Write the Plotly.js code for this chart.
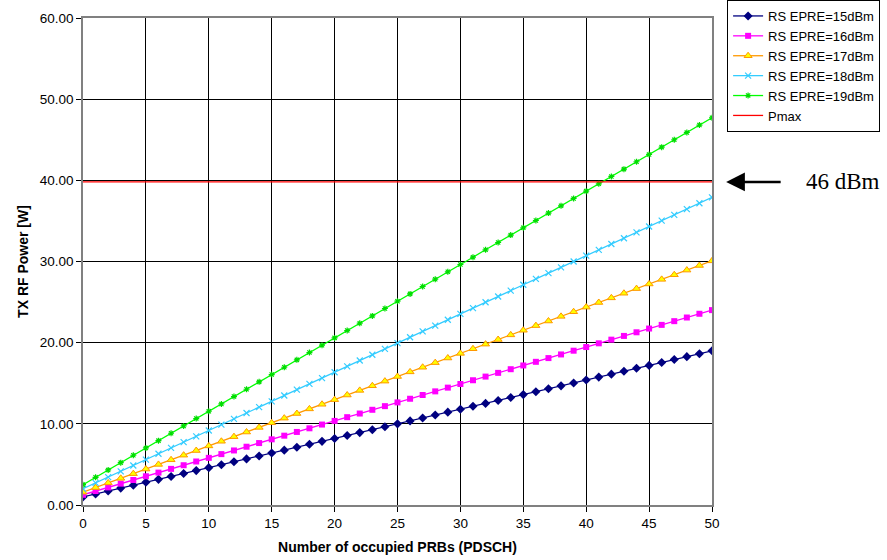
<!DOCTYPE html>
<html><head><meta charset="utf-8">
<script src="https://cdn.plot.ly/plotly-3.0.1.min.js"></script>
<style>html,body{margin:0;padding:0;background:#fff;}#chart{width:887px;height:560px;}</style>
</head><body><div id="chart"></div>
<script>
const prbs = [0,1,2,3,4,5,6,7,8,9,10,11,12,13,14,15,16,17,18,19,20,21,22,23,24,25,26,27,28,29,30,31,32,33,34,35,36,37,38,39,40,41,42,43,44,45,46,47,48,49,50];
const epre15 = [1.00,1.36,1.72,2.08,2.44,2.80,3.16,3.52,3.88,4.24,4.60,4.96,5.32,5.68,6.04,6.40,6.76,7.12,7.48,7.84,8.20,8.56,8.92,9.28,9.64,10.00,10.36,10.72,11.08,11.44,11.80,12.16,12.52,12.88,13.24,13.60,13.96,14.32,14.68,15.04,15.40,15.76,16.12,16.48,16.84,17.20,17.56,17.92,18.28,18.64,19.00];
const epre16 = [1.26,1.72,2.17,2.63,3.08,3.54,3.99,4.45,4.90,5.36,5.81,6.27,6.72,7.18,7.63,8.09,8.54,9.00,9.45,9.91,10.36,10.82,11.27,11.73,12.18,12.64,13.09,13.55,14.00,14.46,14.91,15.37,15.82,16.28,16.73,17.19,17.64,18.10,18.55,19.01,19.46,19.92,20.37,20.83,21.28,21.74,22.19,22.65,23.10,23.56,24.01];
const epre17 = [1.58,2.15,2.72,3.29,3.86,4.43,5.00,5.57,6.14,6.71,7.28,7.85,8.42,8.99,9.56,10.13,10.70,11.27,11.84,12.41,12.98,13.55,14.12,14.69,15.26,15.83,16.40,16.97,17.54,18.11,18.68,19.25,19.82,20.39,20.96,21.53,22.10,22.67,23.24,23.81,24.38,24.95,25.52,26.09,26.66,27.23,27.80,28.37,28.94,29.51,30.08];
const epre18 = [2.00,2.72,3.44,4.15,4.87,5.59,6.31,7.03,7.74,8.46,9.18,9.90,10.62,11.33,12.05,12.77,13.49,14.21,14.92,15.64,16.36,17.08,17.80,18.51,19.23,19.95,20.67,21.39,22.10,22.82,23.54,24.26,24.98,25.69,26.41,27.13,27.85,28.57,29.28,30.00,30.72,31.44,32.16,32.87,33.59,34.31,35.03,35.75,36.46,37.18,37.90];
const epre19 = [2.51,3.41,4.32,5.22,6.13,7.03,7.93,8.84,9.74,10.65,11.55,12.45,13.36,14.26,15.17,16.07,16.97,17.88,18.78,19.69,20.59,21.49,22.40,23.30,24.21,25.11,26.01,26.92,27.82,28.73,29.63,30.53,31.44,32.34,33.25,34.15,35.05,35.96,36.86,37.77,38.67,39.57,40.48,41.38,42.29,43.19,44.09,45.00,45.90,46.81,47.71];
const pmaxX = [0,50];
const pmaxY = [39.81,39.81];
const seriesNames = ['RS EPRE=15dBm','RS EPRE=16dBm','RS EPRE=17dBm','RS EPRE=18dBm','RS EPRE=19dBm','Pmax'];
const yTickVals = [0,10,20,30,40,50,60];
const xTickVals = [0,5,10,15,20,25,30,35,40,45,50];

const traces = [
  {x: prbs, y: epre15, name: seriesNames[0], mode:'lines+markers',
   line:{color:'#000080', width:1.3}, marker:{symbol:'diamond', size:7, color:'#000080'}},
  {x: prbs, y: epre16, name: seriesNames[1], mode:'lines+markers',
   line:{color:'#FF00FF', width:1.3}, marker:{symbol:'square', size:6, color:'#FF00FF'}},
  {x: prbs, y: epre17, name: seriesNames[2], mode:'lines+markers',
   line:{color:'#FF9900', width:1.3}, marker:{symbol:'triangle-up', size:7, color:'#FFFF00', line:{color:'#FF9900', width:1}}},
  {x: prbs, y: epre18, name: seriesNames[3], mode:'lines+markers',
   line:{color:'#33CCFF', width:1.3}, marker:{symbol:'x-thin-open', size:6, color:'#33CCFF', line:{color:'#33CCFF', width:1.2}}},
  {x: prbs, y: epre19, name: seriesNames[4], mode:'lines+markers',
   line:{color:'#00FF00', width:1.3}, marker:{symbol:'asterisk-open', size:5, color:'#00DD00', line:{color:'#00DD00', width:1.2}}},
  {x: pmaxX, y: pmaxY, name: seriesNames[5], mode:'lines',
   line:{color:'#FF0000', width:1.3}}
];

const layout = {
  width: 887, height: 560,
  margin: {l:83, r:175, t:18, b:55, autoexpand:false},
  paper_bgcolor:'#ffffff', plot_bgcolor:'#ffffff',
  font: {family:'Arial, Liberation Sans, sans-serif', size:13, color:'#000'},
  showlegend: true,
  legend: {x:1.024, y:1.037, xanchor:'left', yanchor:'top', bordercolor:'#000', borderwidth:1,
           font:{size:13, family:'Arial, Liberation Sans, sans-serif'}, tracegroupgap:0, itemwidth:30},
  xaxis: {range:[0,50], tickvals:xTickVals, ticks:'outside', ticklen:5, tickcolor:'#000',
          showgrid:true, gridcolor:'#000', gridwidth:1, zeroline:false,
          showline:true, linecolor:'#808080', mirror:true, linewidth:1.5,
          tickfont:{size:13.5},
          title:{text:'<b>Number of occupied PRBs (PDSCH)</b>', font:{size:14}, standoff:12}},
  yaxis: {range:[0,60], tickvals:yTickVals, tickformat:'.2f', ticks:'outside', ticklen:5, tickcolor:'#000',
          showgrid:true, gridcolor:'#000', gridwidth:1, zeroline:false,
          showline:true, linecolor:'#808080', mirror:true, linewidth:1.5,
          tickfont:{size:13.5},
          title:{text:'<b>TX RF Power [W]</b>', font:{size:14}, standoff:8}},
  annotations: [
    {xref:'paper', yref:'y', x:1.0225, y:39.81, ax:56, ay:0, axref:'pixel', ayref:'pixel',
     xanchor:'center', yanchor:'middle',
     text:'', showarrow:true, arrowhead:2, arrowsize:1.5, arrowwidth:2.5, arrowcolor:'#000', standoff:0, startstandoff:0},
    {xref:'paper', yref:'y', x:1.208, y:39.81, xanchor:'center', yanchor:'middle', text:'46 dBm', showarrow:false,
     font:{family:'Liberation Serif, Times New Roman, serif', size:23, color:'#000'}}
  ]
};
Plotly.newPlot('chart', traces, layout, {displayModeBar:false});
</script></body></html>
